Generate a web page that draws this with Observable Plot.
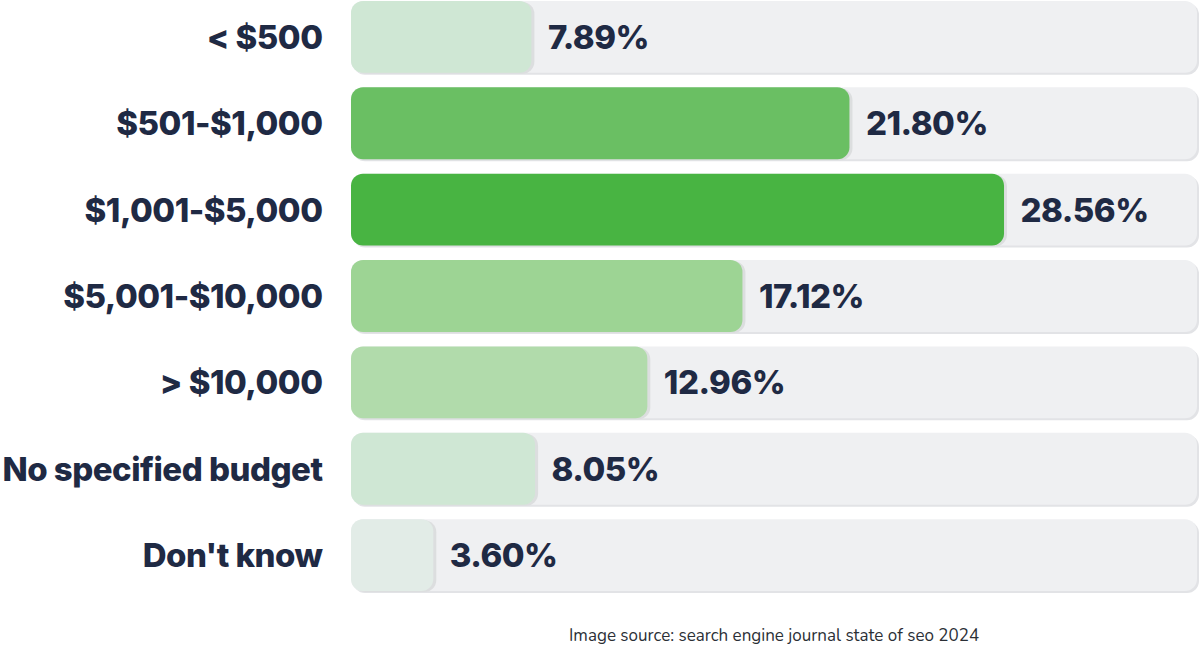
<!DOCTYPE html>
<html>
<head>
<meta charset="utf-8">
<script src="https://cdn.jsdelivr.net/npm/d3@7"></script>
<script src="https://cdn.jsdelivr.net/npm/@observablehq/plot@0.6"></script>
<style>
  html, body { margin: 0; padding: 0; background: #ffffff; }
  #chart { width: 1200px; }
  #caption { position: absolute; left: 569px; top: 624px; font-family: "Nunito", "Lato", "Open Sans", sans-serif; font-size: 17px; color: #2b2f36; white-space: nowrap; }
</style>
</head>
<body>
<div id="chart"></div>
<div id="caption">Image source: search engine journal state of seo 2024</div>
<script>
const categories = ["< $500", "$501-$1,000", "$1,001-$5,000", "$5,001-$10,000", "> $10,000", "No specified budget", "Don't know"];
const values = [7.89, 21.80, 28.56, 17.12, 12.96, 8.05, 3.60];
const valueLabels = ["7.89%", "21.80%", "28.56%", "17.12%", "12.96%", "8.05%", "3.60%"];
const barColors = ["#cfe7d4", "#6abf63", "#48b442", "#9dd494", "#b1dbab", "#cfe7d4", "#e2ece7"];
const trackMax = 37;

const data = categories.map((c, i) => ({cat: c, value: values[i], label: valueLabels[i], color: barColors[i], max: trackMax}));

const font = "Inter, sans-serif";

const chart = Plot.plot({
  width: 1200,
  height: 596,
  marginLeft: 351,
  marginRight: 3,
  marginTop: 1,
  marginBottom: 5,
  style: {fontFamily: font, background: "#ffffff"},
  x: {domain: [0, trackMax], axis: null},
  y: {domain: categories, paddingInner: 0.168, paddingOuter: 0, align: 0, round: false, label: null},
  marks: [
    Plot.barX(data, {x: "max", y: "cat", fill: "#e2e3e6", rx: 12, dx: 2, dy: 2}),
    Plot.barX(data, {x: "max", y: "cat", fill: "#eff0f2", rx: 12}),
    Plot.barX(data, {x: "value", y: "cat", fill: "#dcdedf", rx: 12, dx: 3, dy: 1}),
    Plot.barX(data, {x: "value", y: "cat", fill: "color", rx: 12}),
    Plot.text(data, {x: "value", y: "cat", text: "label", dx: 16, dy: 1, textAnchor: "start", fontSize: 33, fontWeight: 800, fill: "#1f2a44"}),
    Plot.axisY({tickSize: 0, tickPadding: 29, dy: 1, fontSize: 33, fontWeight: 800, fill: "#1f2a44", label: null})
  ]
});
chart.querySelectorAll("text").forEach(t => { t.setAttribute("font-weight", "800"); t.style.letterSpacing = "-0.5px"; });
document.getElementById("chart").appendChild(chart);
</script>
</body>
</html>
